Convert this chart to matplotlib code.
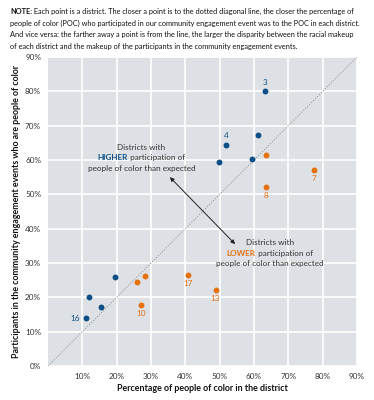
import matplotlib.pyplot as plt
from matplotlib.ticker import FuncFormatter

plt.rcParams['font.family'] = ['Lato', 'DejaVu Sans']

# districts with higher participation than expected
blue_x = [63.1, 61.1, 51.9, 59.4, 49.8, 19.6, 11.8, 15.4, 11.2]
blue_y = [80.0, 67.3, 64.4, 60.4, 59.5, 26.0, 20.0, 17.3, 13.9]
blue_lab = ['3', '', '4', '', '', '', '', '', '16']

# districts with lower participation than expected
orange_x = [63.6, 77.5, 63.5, 25.9, 28.3, 27.1, 40.9, 48.8]
orange_y = [61.5, 57.2, 52.2, 24.4, 26.2, 17.8, 26.6, 22.2]
orange_lab = ['', '7', '8', '', '', '10', '17', '13']

ticks = [0, 10, 20, 30, 40, 50, 60, 70, 80, 90]

blue = '#0d4f86'
orange = '#e5720f'
fs = 5.9

fig = plt.figure(figsize=(3.74, 4.0), dpi=100)
ax = fig.add_axes([48/374, 34/400, 309/374, 309/400])
ax.set_facecolor('#dde0e4')
for s in ax.spines.values():
    s.set_visible(False)
ax.set_xlim(0, 90)
ax.set_ylim(0, 90)
ax.set_xticks(ticks[1:])
ax.set_yticks(ticks)
ax.grid(color='white', linewidth=1.2)
ax.set_axisbelow(True)
ax.tick_params(length=0, labelsize=fs, colors='#333333', pad=5)
fmt = FuncFormatter(lambda v, p: f'{v:.0f}%')
ax.xaxis.set_major_formatter(fmt)
ax.yaxis.set_major_formatter(fmt)

ax.plot([0, 90], [0, 90], linestyle=(0, (1, 1.5)), color='#999999', linewidth=0.8, zorder=1)

ax.scatter(blue_x, blue_y, s=18, color=blue, zorder=3, linewidths=0)
ax.scatter(orange_x, orange_y, s=18, color=orange, zorder=3, linewidths=0)

for x, y, t in zip(blue_x, blue_y, blue_lab):
    if t == '16':
        ax.annotate(t, (x, y), xytext=(-5, 0), textcoords='offset points',
                    ha='right', va='center', fontsize=fs, color=blue)
    elif t:
        ax.annotate(t, (x, y), xytext=(0, 4), textcoords='offset points',
                    ha='center', va='bottom', fontsize=fs, color=blue)
for x, y, t in zip(orange_x, orange_y, orange_lab):
    if t:
        ax.annotate(t, (x, y), xytext=(0, -4), textcoords='offset points',
                    ha='center', va='top', fontsize=fs, color=orange)

ax.annotate('', xy=(35.5, 55.0), xytext=(54.5, 35.5),
            arrowprops=dict(arrowstyle='<|-|>', color='#222222', lw=0.7,
                            mutation_scale=6, shrinkA=0, shrinkB=0))

tc = '#333333'
rend = fig.canvas.get_renderer()


def callout(cx, cy, word, wcolor):
    ax.text(cx, cy + 3, 'Districts with', ha='center', va='center', fontsize=fs, color=tc)
    ax.text(cx, cy - 3, 'people of color than expected', ha='center', va='center', fontsize=fs, color=tc)
    w = ax.text(cx, cy, word, ha='left', va='center', fontsize=fs, color=wcolor, fontweight='bold')
    r = ax.annotate(' participation of', xycoords=w, xy=(1, 0.5), ha='left', va='center',
                    fontsize=fs, color=tc)
    tot = w.get_window_extent(rend).width + r.get_window_extent(rend).width
    # shift the word so the whole line is centred on cx
    px = ax.transData.transform((cx, cy))[0] - tot / 2
    w.set_x(ax.transData.inverted().transform((px, 0))[0])


callout(27.2, 60.6, 'HIGHER', blue)
callout(64.6, 32.9, 'LOWER', orange)

ax.set_xlabel('Percentage of people of color in the district', fontsize=6.4,
              fontweight='bold', color='#111111', labelpad=3)
ax.set_ylabel('Participants in the community engagement events who are people of color',
              fontsize=6.4, fontweight='bold', color='#111111', labelpad=3)

note = ['Each point is a district. The closer a point is to the dotted diagonal line, the closer the percentage of',
        'people of color (POC) who participated in our community engagement event was to the POC in each district.',
        'And vice versa: the farther away a point is from the line, the larger the disparity between the racial makeup',
        'of each district and the makeup of the participants in the community engagement events.']
nfs = 5.3
n0 = fig.text(10/374, 1 - 8/400, 'NOTE:', fontsize=nfs, fontweight='bold', va='top', ha='left', color='#111111')
ax.annotate(' ' + note[0], xycoords=n0, xy=(1, 1), ha='left', va='top',
            fontsize=nfs, color='#111111')
for i, line in enumerate(note[1:]):
    fig.text(10/374, 1 - (8 + 11.6 * (i + 1))/400, line, fontsize=nfs, va='top', ha='left',
             color='#111111')

fig.savefig('out.png', dpi=100)
